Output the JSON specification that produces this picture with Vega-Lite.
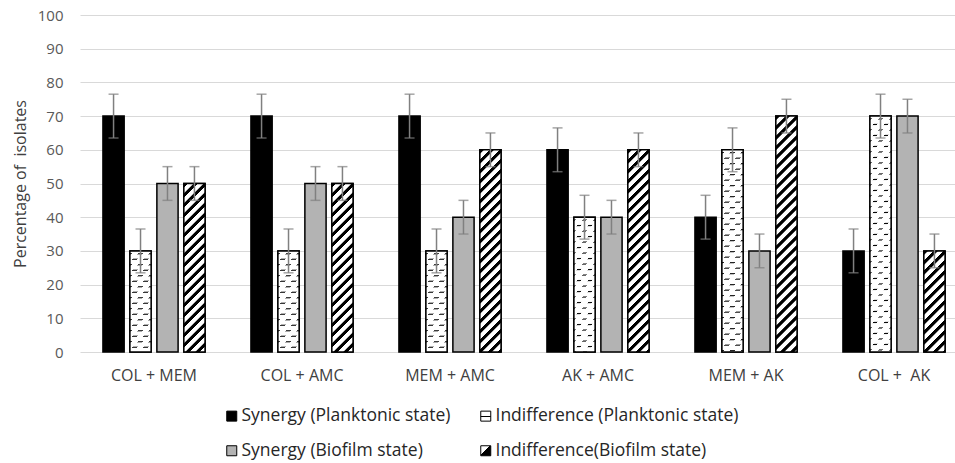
{
  "$schema": "https://vega.github.io/schema/vega-lite/v6.json",
  "width": 875,
  "height": 337,
  "autosize": {"type": "none"},
  "padding": {"left": 80, "top": 15, "right": 0, "bottom": 111},
  "background": "white",
  "config": {
    "view": {"stroke": null},
    "axisY": {"grid": true, "gridColor": "#d9d9d9", "gridWidth": 1.2, "domain": false, "ticks": false, "labelPadding": 17, "labelFont": "Open Sans", "labelFontSize": 15, "labelColor": "#595959", "titleFont": "Open Sans", "titleFontSize": 16, "titleFontWeight": "normal", "titleColor": "#404040", "titlePadding": 9, "labelOverlap": false},
    "axisX": {"domain": false, "ticks": false, "grid": false, "labelAngle": 0, "labelPadding": 15, "labelFont": "Open Sans", "labelFontSize": 16, "labelColor": "#404040"}
  },
  "params": [
    {"name": "legDash", "value": {"gradient": "linear", "x1": 0, "y1": 0, "x2": 0, "y2": 1, "stops": [{"offset": 0, "color": "#fff"}, {"offset": 0.45, "color": "#fff"}, {"offset": 0.45, "color": "#000"}, {"offset": 0.6, "color": "#000"}, {"offset": 0.6, "color": "#fff"}, {"offset": 1, "color": "#fff"}]}},
    {"name": "legHatch", "value": {"gradient": "linear", "x1": 0, "y1": 0, "x2": 1, "y2": 1, "stops": [{"offset": 0, "color": "#fff"}, {"offset": 0.45, "color": "#fff"}, {"offset": 0.45, "color": "#000"}, {"offset": 1, "color": "#000"}]}},
    {"name": "hatch", "value": [
      {"offset":0.0005,"color":"#000"},{"offset":0.0095,"color":"#000"},{"offset":0.0115,"color":"#fff"},{"offset":0.0235,"color":"#fff"},
      {"offset":0.0255,"color":"#000"},{"offset":0.0345,"color":"#000"},{"offset":0.0365,"color":"#fff"},{"offset":0.0485,"color":"#fff"},
      {"offset":0.0505,"color":"#000"},{"offset":0.0595,"color":"#000"},{"offset":0.0615,"color":"#fff"},{"offset":0.0735,"color":"#fff"},
      {"offset":0.0755,"color":"#000"},{"offset":0.0845,"color":"#000"},{"offset":0.0865,"color":"#fff"},{"offset":0.0985,"color":"#fff"},
      {"offset":0.1005,"color":"#000"},{"offset":0.1095,"color":"#000"},{"offset":0.1115,"color":"#fff"},{"offset":0.1235,"color":"#fff"},
      {"offset":0.1255,"color":"#000"},{"offset":0.1345,"color":"#000"},{"offset":0.1365,"color":"#fff"},{"offset":0.1485,"color":"#fff"},
      {"offset":0.1505,"color":"#000"},{"offset":0.1595,"color":"#000"},{"offset":0.1615,"color":"#fff"},{"offset":0.1735,"color":"#fff"},
      {"offset":0.1755,"color":"#000"},{"offset":0.1845,"color":"#000"},{"offset":0.1865,"color":"#fff"},{"offset":0.1985,"color":"#fff"},
      {"offset":0.2005,"color":"#000"},{"offset":0.2095,"color":"#000"},{"offset":0.2115,"color":"#fff"},{"offset":0.2235,"color":"#fff"},
      {"offset":0.2255,"color":"#000"},{"offset":0.2345,"color":"#000"},{"offset":0.2365,"color":"#fff"},{"offset":0.2485,"color":"#fff"},
      {"offset":0.2505,"color":"#000"},{"offset":0.2595,"color":"#000"},{"offset":0.2615,"color":"#fff"},{"offset":0.2735,"color":"#fff"},
      {"offset":0.2755,"color":"#000"},{"offset":0.2845,"color":"#000"},{"offset":0.2865,"color":"#fff"},{"offset":0.2985,"color":"#fff"},
      {"offset":0.3005,"color":"#000"},{"offset":0.3095,"color":"#000"},{"offset":0.3115,"color":"#fff"},{"offset":0.3235,"color":"#fff"},
      {"offset":0.3255,"color":"#000"},{"offset":0.3345,"color":"#000"},{"offset":0.3365,"color":"#fff"},{"offset":0.3485,"color":"#fff"},
      {"offset":0.3505,"color":"#000"},{"offset":0.3595,"color":"#000"},{"offset":0.3615,"color":"#fff"},{"offset":0.3735,"color":"#fff"},
      {"offset":0.3755,"color":"#000"},{"offset":0.3845,"color":"#000"},{"offset":0.3865,"color":"#fff"},{"offset":0.3985,"color":"#fff"},
      {"offset":0.4005,"color":"#000"},{"offset":0.4095,"color":"#000"},{"offset":0.4115,"color":"#fff"},{"offset":0.4235,"color":"#fff"},
      {"offset":0.4255,"color":"#000"},{"offset":0.4345,"color":"#000"},{"offset":0.4365,"color":"#fff"},{"offset":0.4485,"color":"#fff"},
      {"offset":0.4505,"color":"#000"},{"offset":0.4595,"color":"#000"},{"offset":0.4615,"color":"#fff"},{"offset":0.4735,"color":"#fff"},
      {"offset":0.4755,"color":"#000"},{"offset":0.4845,"color":"#000"},{"offset":0.4865,"color":"#fff"},{"offset":0.4985,"color":"#fff"},
      {"offset":0.5005,"color":"#000"},{"offset":0.5095,"color":"#000"},{"offset":0.5115,"color":"#fff"},{"offset":0.5235,"color":"#fff"},
      {"offset":0.5255,"color":"#000"},{"offset":0.5345,"color":"#000"},{"offset":0.5365,"color":"#fff"},{"offset":0.5485,"color":"#fff"},
      {"offset":0.5505,"color":"#000"},{"offset":0.5595,"color":"#000"},{"offset":0.5615,"color":"#fff"},{"offset":0.5735,"color":"#fff"},
      {"offset":0.5755,"color":"#000"},{"offset":0.5845,"color":"#000"},{"offset":0.5865,"color":"#fff"},{"offset":0.5985,"color":"#fff"},
      {"offset":0.6005,"color":"#000"},{"offset":0.6095,"color":"#000"},{"offset":0.6115,"color":"#fff"},{"offset":0.6235,"color":"#fff"},
      {"offset":0.6255,"color":"#000"},{"offset":0.6345,"color":"#000"},{"offset":0.6365,"color":"#fff"},{"offset":0.6485,"color":"#fff"}
    ]},
    {"name": "dlines", "value": [
      {"offset":0.004,"color":"#fff"},{"offset":0.0065,"color":"#000"},{"offset":0.009,"color":"#fff"},
      {"offset":0.0165,"color":"#fff"},{"offset":0.019,"color":"#000"},{"offset":0.0215,"color":"#fff"},
      {"offset":0.029,"color":"#fff"},{"offset":0.0315,"color":"#000"},{"offset":0.034,"color":"#fff"},
      {"offset":0.0415,"color":"#fff"},{"offset":0.044,"color":"#000"},{"offset":0.0465,"color":"#fff"},
      {"offset":0.054,"color":"#fff"},{"offset":0.0565,"color":"#000"},{"offset":0.059,"color":"#fff"},
      {"offset":0.0665,"color":"#fff"},{"offset":0.069,"color":"#000"},{"offset":0.0715,"color":"#fff"},
      {"offset":0.079,"color":"#fff"},{"offset":0.0815,"color":"#000"},{"offset":0.084,"color":"#fff"},
      {"offset":0.0915,"color":"#fff"},{"offset":0.094,"color":"#000"},{"offset":0.0965,"color":"#fff"},
      {"offset":0.104,"color":"#fff"},{"offset":0.1065,"color":"#000"},{"offset":0.109,"color":"#fff"},
      {"offset":0.1165,"color":"#fff"},{"offset":0.119,"color":"#000"},{"offset":0.1215,"color":"#fff"},
      {"offset":0.129,"color":"#fff"},{"offset":0.1315,"color":"#000"},{"offset":0.134,"color":"#fff"},
      {"offset":0.1415,"color":"#fff"},{"offset":0.144,"color":"#000"},{"offset":0.1465,"color":"#fff"},
      {"offset":0.154,"color":"#fff"},{"offset":0.1565,"color":"#000"},{"offset":0.159,"color":"#fff"},
      {"offset":0.1665,"color":"#fff"},{"offset":0.169,"color":"#000"},{"offset":0.1715,"color":"#fff"},
      {"offset":0.179,"color":"#fff"},{"offset":0.1815,"color":"#000"},{"offset":0.184,"color":"#fff"},
      {"offset":0.1915,"color":"#fff"},{"offset":0.194,"color":"#000"},{"offset":0.1965,"color":"#fff"},
      {"offset":0.204,"color":"#fff"},{"offset":0.2065,"color":"#000"},{"offset":0.209,"color":"#fff"},
      {"offset":0.2165,"color":"#fff"},{"offset":0.219,"color":"#000"},{"offset":0.2215,"color":"#fff"},
      {"offset":0.229,"color":"#fff"},{"offset":0.2315,"color":"#000"},{"offset":0.234,"color":"#fff"},
      {"offset":0.2415,"color":"#fff"},{"offset":0.244,"color":"#000"},{"offset":0.2465,"color":"#fff"},
      {"offset":0.254,"color":"#fff"},{"offset":0.2565,"color":"#000"},{"offset":0.259,"color":"#fff"},
      {"offset":0.2665,"color":"#fff"},{"offset":0.269,"color":"#000"},{"offset":0.2715,"color":"#fff"},
      {"offset":0.279,"color":"#fff"},{"offset":0.2815,"color":"#000"},{"offset":0.284,"color":"#fff"},
      {"offset":0.2915,"color":"#fff"},{"offset":0.294,"color":"#000"},{"offset":0.2965,"color":"#fff"},
      {"offset":0.304,"color":"#fff"},{"offset":0.3065,"color":"#000"},{"offset":0.309,"color":"#fff"},
      {"offset":0.3165,"color":"#fff"},{"offset":0.319,"color":"#000"},{"offset":0.3215,"color":"#fff"},
      {"offset":0.329,"color":"#fff"},{"offset":0.3315,"color":"#000"},{"offset":0.334,"color":"#fff"},
      {"offset":0.3415,"color":"#fff"},{"offset":0.344,"color":"#000"},{"offset":0.3465,"color":"#fff"},
      {"offset":0.354,"color":"#fff"},{"offset":0.3565,"color":"#000"},{"offset":0.359,"color":"#fff"},
      {"offset":0.3665,"color":"#fff"},{"offset":0.369,"color":"#000"},{"offset":0.3715,"color":"#fff"},
      {"offset":0.379,"color":"#fff"},{"offset":0.3815,"color":"#000"},{"offset":0.384,"color":"#fff"},
      {"offset":0.3915,"color":"#fff"},{"offset":0.394,"color":"#000"},{"offset":0.3965,"color":"#fff"},
      {"offset":0.404,"color":"#fff"},{"offset":0.4065,"color":"#000"},{"offset":0.409,"color":"#fff"},
      {"offset":0.4165,"color":"#fff"},{"offset":0.419,"color":"#000"},{"offset":0.4215,"color":"#fff"},
      {"offset":0.429,"color":"#fff"},{"offset":0.4315,"color":"#000"},{"offset":0.434,"color":"#fff"},
      {"offset":0.4415,"color":"#fff"},{"offset":0.444,"color":"#000"},{"offset":0.4465,"color":"#fff"},
      {"offset":0.454,"color":"#fff"},{"offset":0.4565,"color":"#000"},{"offset":0.459,"color":"#fff"},
      {"offset":0.4665,"color":"#fff"},{"offset":0.469,"color":"#000"},{"offset":0.4715,"color":"#fff"},
      {"offset":0.479,"color":"#fff"},{"offset":0.4815,"color":"#000"},{"offset":0.484,"color":"#fff"},
      {"offset":0.4915,"color":"#fff"},{"offset":0.494,"color":"#000"},{"offset":0.4965,"color":"#fff"},
      {"offset":0.504,"color":"#fff"},{"offset":0.5065,"color":"#000"},{"offset":0.509,"color":"#fff"},
      {"offset":0.5165,"color":"#fff"},{"offset":0.519,"color":"#000"},{"offset":0.5215,"color":"#fff"},
      {"offset":0.529,"color":"#fff"},{"offset":0.5315,"color":"#000"},{"offset":0.534,"color":"#fff"}
    ]},
    {"name": "dmask", "value": [
      {"offset":0,"color":"transparent"},{"offset":0.0112,"color":"transparent"},{"offset":0.0112,"color":"#fff"},{"offset":0.0275,"color":"#fff"},
      {"offset":0.0275,"color":"transparent"},{"offset":0.0387,"color":"transparent"},{"offset":0.0387,"color":"#fff"},{"offset":0.055,"color":"#fff"},
      {"offset":0.055,"color":"transparent"},{"offset":0.0662,"color":"transparent"},{"offset":0.0662,"color":"#fff"},{"offset":0.0825,"color":"#fff"},
      {"offset":0.0825,"color":"transparent"},{"offset":0.0937,"color":"transparent"},{"offset":0.0937,"color":"#fff"},{"offset":0.11,"color":"#fff"},
      {"offset":0.11,"color":"transparent"},{"offset":0.1212,"color":"transparent"},{"offset":0.1212,"color":"#fff"},{"offset":0.1375,"color":"#fff"},
      {"offset":0.1375,"color":"transparent"},{"offset":0.1487,"color":"transparent"},{"offset":0.1487,"color":"#fff"},{"offset":0.165,"color":"#fff"},
      {"offset":0.165,"color":"transparent"},{"offset":0.1762,"color":"transparent"},{"offset":0.1762,"color":"#fff"},{"offset":0.1925,"color":"#fff"},
      {"offset":0.1925,"color":"transparent"},{"offset":0.2037,"color":"transparent"},{"offset":0.2037,"color":"#fff"},{"offset":0.22,"color":"#fff"},
      {"offset":0.22,"color":"transparent"},{"offset":0.2312,"color":"transparent"},{"offset":0.2312,"color":"#fff"},{"offset":0.2475,"color":"#fff"},
      {"offset":0.2475,"color":"transparent"},{"offset":0.2587,"color":"transparent"},{"offset":0.2587,"color":"#fff"},{"offset":0.275,"color":"#fff"},
      {"offset":0.275,"color":"transparent"},{"offset":0.2862,"color":"transparent"},{"offset":0.2862,"color":"#fff"},{"offset":0.3025,"color":"#fff"},
      {"offset":0.3025,"color":"transparent"},{"offset":0.3137,"color":"transparent"},{"offset":0.3137,"color":"#fff"},{"offset":0.33,"color":"#fff"},
      {"offset":0.33,"color":"transparent"},{"offset":0.3412,"color":"transparent"},{"offset":0.3412,"color":"#fff"},{"offset":0.3575,"color":"#fff"},
      {"offset":0.3575,"color":"transparent"},{"offset":0.3687,"color":"transparent"},{"offset":0.3687,"color":"#fff"},{"offset":0.385,"color":"#fff"},
      {"offset":0.385,"color":"transparent"},{"offset":0.3962,"color":"transparent"},{"offset":0.3962,"color":"#fff"},{"offset":0.4125,"color":"#fff"},
      {"offset":0.4125,"color":"transparent"},{"offset":0.4237,"color":"transparent"},{"offset":0.4237,"color":"#fff"},{"offset":0.44,"color":"#fff"},
      {"offset":0.44,"color":"transparent"},{"offset":0.4512,"color":"transparent"},{"offset":0.4512,"color":"#fff"},{"offset":0.4675,"color":"#fff"},
      {"offset":0.4675,"color":"transparent"},{"offset":0.4787,"color":"transparent"},{"offset":0.4787,"color":"#fff"},{"offset":0.495,"color":"#fff"},
      {"offset":0.495,"color":"transparent"},{"offset":0.5062,"color":"transparent"},{"offset":0.5062,"color":"#fff"},{"offset":0.5225,"color":"#fff"},
      {"offset":0.5225,"color":"transparent"},{"offset":0.5337,"color":"transparent"},{"offset":0.5337,"color":"#fff"},{"offset":0.55,"color":"#fff"},
      {"offset":0.55,"color":"transparent"},{"offset":0.5612,"color":"transparent"},{"offset":0.5612,"color":"#fff"},{"offset":0.5775,"color":"#fff"},
      {"offset":0.5775,"color":"transparent"},{"offset":0.5887,"color":"transparent"},{"offset":0.5887,"color":"#fff"},{"offset":0.605,"color":"#fff"},
      {"offset":0.605,"color":"transparent"},{"offset":0.6162,"color":"transparent"},{"offset":0.6162,"color":"#fff"},{"offset":0.6325,"color":"#fff"},
      {"offset":0.6325,"color":"transparent"},{"offset":0.6437,"color":"transparent"},{"offset":0.6437,"color":"#fff"},{"offset":0.66,"color":"#fff"}
    ]}
  ],
  "data": {"values": [
    {"combo": "COL + MEM", "series": "Synergy (Planktonic state)", "value": 70, "lo": 63.5, "hi": 76.5},
    {"combo": "COL + MEM", "series": "Indifference (Planktonic state)", "value": 30, "lo": 23.5, "hi": 36.5},
    {"combo": "COL + MEM", "series": "Synergy (Biofilm state)", "value": 50, "lo": 45, "hi": 55},
    {"combo": "COL + MEM", "series": "Indifference(Biofilm state)", "value": 50, "lo": 45, "hi": 55},
    {"combo": "COL + AMC", "series": "Synergy (Planktonic state)", "value": 70, "lo": 63.5, "hi": 76.5},
    {"combo": "COL + AMC", "series": "Indifference (Planktonic state)", "value": 30, "lo": 23.5, "hi": 36.5},
    {"combo": "COL + AMC", "series": "Synergy (Biofilm state)", "value": 50, "lo": 45, "hi": 55},
    {"combo": "COL + AMC", "series": "Indifference(Biofilm state)", "value": 50, "lo": 45, "hi": 55},
    {"combo": "MEM + AMC", "series": "Synergy (Planktonic state)", "value": 70, "lo": 63.5, "hi": 76.5},
    {"combo": "MEM + AMC", "series": "Indifference (Planktonic state)", "value": 30, "lo": 23.5, "hi": 36.5},
    {"combo": "MEM + AMC", "series": "Synergy (Biofilm state)", "value": 40, "lo": 35, "hi": 45},
    {"combo": "MEM + AMC", "series": "Indifference(Biofilm state)", "value": 60, "lo": 55, "hi": 65},
    {"combo": "AK + AMC", "series": "Synergy (Planktonic state)", "value": 60, "lo": 53.5, "hi": 66.5},
    {"combo": "AK + AMC", "series": "Indifference (Planktonic state)", "value": 40, "lo": 33.5, "hi": 46.5},
    {"combo": "AK + AMC", "series": "Synergy (Biofilm state)", "value": 40, "lo": 35, "hi": 45},
    {"combo": "AK + AMC", "series": "Indifference(Biofilm state)", "value": 60, "lo": 55, "hi": 65},
    {"combo": "MEM + AK", "series": "Synergy (Planktonic state)", "value": 40, "lo": 33.5, "hi": 46.5},
    {"combo": "MEM + AK", "series": "Indifference (Planktonic state)", "value": 60, "lo": 53.5, "hi": 66.5},
    {"combo": "MEM + AK", "series": "Synergy (Biofilm state)", "value": 30, "lo": 25, "hi": 35},
    {"combo": "MEM + AK", "series": "Indifference(Biofilm state)", "value": 70, "lo": 65, "hi": 75},
    {"combo": "COL +\u00a0 AK", "series": "Synergy (Planktonic state)", "value": 30, "lo": 23.5, "hi": 36.5},
    {"combo": "COL +\u00a0 AK", "series": "Indifference (Planktonic state)", "value": 70, "lo": 63.5, "hi": 76.5},
    {"combo": "COL +\u00a0 AK", "series": "Synergy (Biofilm state)", "value": 70, "lo": 65, "hi": 75},
    {"combo": "COL +\u00a0 AK", "series": "Indifference(Biofilm state)", "value": 30, "lo": 25, "hi": 35}
  ]},
  "encoding": {
    "x": {
      "field": "combo", "type": "nominal", "title": null,
      "scale": {"domain": ["COL + MEM", "COL + AMC", "MEM + AMC", "AK + AMC", "MEM + AK", "COL +\u00a0 AK"], "range": [0, 888], "paddingInner": 0.31, "paddingOuter": 0.155}
    },
    "xOffset": {
      "field": "series", "type": "nominal",
      "scale": {"domain": ["Synergy (Planktonic state)", "Indifference (Planktonic state)", "Synergy (Biofilm state)", "Indifference(Biofilm state)"], "paddingInner": 0.213, "paddingOuter": 0}
    }
  },
  "layer": [
    {
      "mark": {"type": "bar", "stroke": "#000", "strokeWidth": 1.5},
      "encoding": {
        "y": {"field": "value", "type": "quantitative", "title": "Percentage of\u00a0 isolates", "scale": {"domain": [0, 100]}, "axis": {"values": [0, 10, 20, 30, 40, 50, 60, 70, 80, 90, 100]}},
        "fill": {
          "field": "series", "type": "nominal",
          "scale": {"domain": ["Synergy (Planktonic state)", "Indifference (Planktonic state)", "Synergy (Biofilm state)", "Indifference(Biofilm state)"],
            "range": ["#000000", {"expr": "legDash"}, "#b3b3b3", {"expr": "legHatch"}]},
          "legend": {
            "title": null, "orient": "none", "legendX": 143, "legendY": 392, "columns": 2, "direction": "horizontal", "padding": 0,
            "symbolType": "square", "symbolSize": 100, "symbolStrokeColor": "#000", "symbolStrokeWidth": 1,
            "labelFont": "Open Sans", "labelFontSize": 17.5, "labelColor": "#262626", "labelOffset": 1, "labelLimit": 400,
            "columnPadding": 26, "rowPadding": 16
          }
        }
      }
    },
    {
      "transform": [{"filter": "datum.series === 'Indifference(Biofilm state)'"}],
      "mark": {"type": "bar", "stroke": "#000", "strokeWidth": 1.5,
        "fill": {"expr": "{gradient: 'linear', x1: 0, y1: 0, x2: 8480 / (449.44 + pow(3.37 * datum.value, 2)), y2: 1348 * datum.value / (449.44 + pow(3.37 * datum.value, 2)), stops: hatch}"}},
      "encoding": {"y": {"field": "value", "type": "quantitative", "title": "Percentage of\u00a0 isolates", "axis": {"values": [0, 10, 20, 30, 40, 50, 60, 70, 80, 90, 100]}}}
    },
    {
      "transform": [{"filter": "datum.series === 'Indifference (Planktonic state)'"}],
      "mark": {"type": "bar", "strokeWidth": 0,
        "fill": {"expr": "{gradient: 'linear', x1: 0, y1: 0, x2: 0, y2: 440 / (3.37 * datum.value), stops: dlines}"}},
      "encoding": {"y": {"field": "value", "type": "quantitative", "title": "Percentage of\u00a0 isolates", "axis": {"values": [0, 10, 20, 30, 40, 50, 60, 70, 80, 90, 100]}}}
    },
    {
      "transform": [{"filter": "datum.series === 'Indifference (Planktonic state)'"}],
      "mark": {"type": "bar", "stroke": "#000", "strokeWidth": 1.5,
        "fill": {"expr": "{gradient: 'linear', x1: 0, y1: 0, x2: 8480 / (449.44 + pow(3.37 * datum.value, 2)), y2: 1348 * datum.value / (449.44 + pow(3.37 * datum.value, 2)), stops: dmask}"}},
      "encoding": {"y": {"field": "value", "type": "quantitative", "title": "Percentage of\u00a0 isolates", "axis": {"values": [0, 10, 20, 30, 40, 50, 60, 70, 80, 90, 100]}}}
    },
    {
      "mark": {"type": "rule", "color": "#808080", "strokeWidth": 1.5},
      "encoding": {
        "y": {"field": "lo", "type": "quantitative", "title": "Percentage of\u00a0 isolates", "axis": {"values": [0, 10, 20, 30, 40, 50, 60, 70, 80, 90, 100]}},
        "y2": {"field": "hi"}
      }
    },
    {
      "mark": {"type": "tick", "orient": "horizontal", "size": 10, "thickness": 1.5, "color": "#808080"},
      "encoding": {"y": {"field": "lo", "type": "quantitative", "title": "Percentage of\u00a0 isolates", "axis": {"values": [0, 10, 20, 30, 40, 50, 60, 70, 80, 90, 100]}}}
    },
    {
      "mark": {"type": "tick", "orient": "horizontal", "size": 10, "thickness": 1.5, "color": "#808080"},
      "encoding": {"y": {"field": "hi", "type": "quantitative", "title": "Percentage of\u00a0 isolates", "axis": {"values": [0, 10, 20, 30, 40, 50, 60, 70, 80, 90, 100]}}}
    }
  ]
}
